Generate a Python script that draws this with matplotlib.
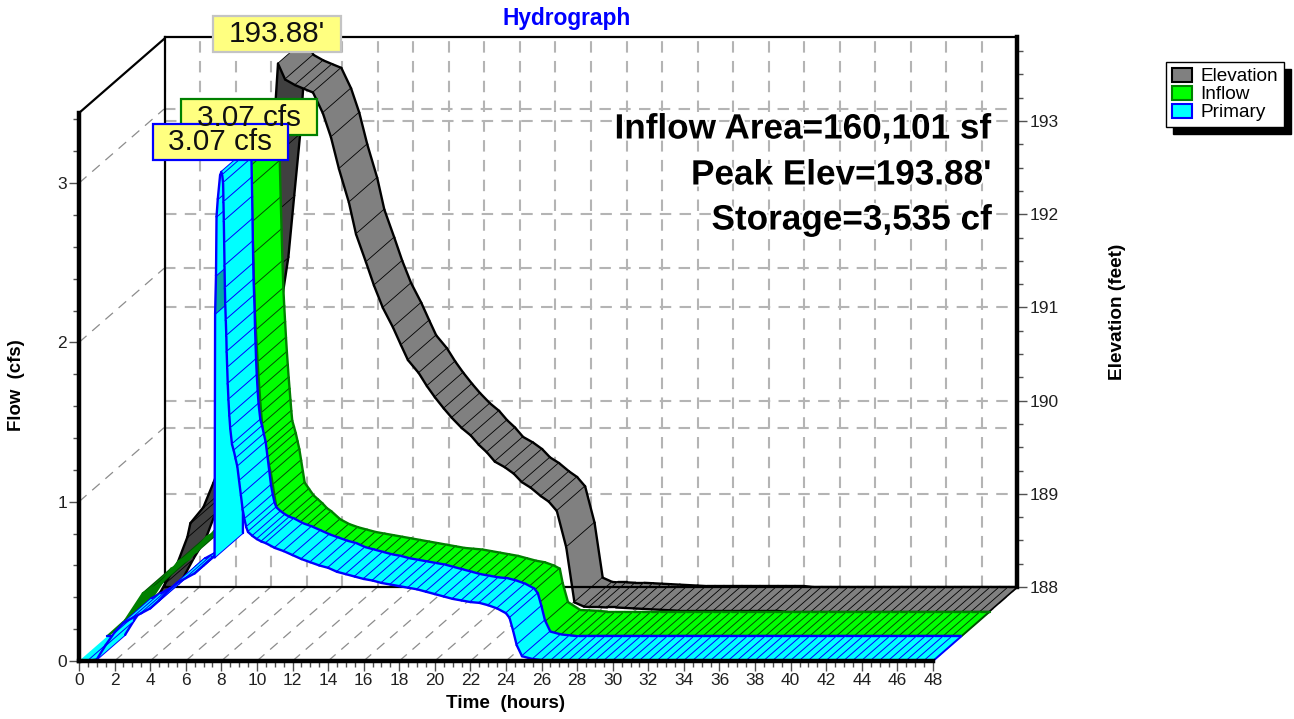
import numpy as np
import matplotlib
matplotlib.use('Agg')
import matplotlib.pyplot as plt
import matplotlib.patheffects as pe
from matplotlib.patches import Polygon, Patch, Rectangle
from matplotlib.ticker import MultipleLocator

plt.rcParams['font.family'] = ['Liberation Sans', 'DejaVu Sans']

W, H = 1294, 719

# values
tail_hours = [float(x) for x in np.arange(26.5, 48.5, 0.5)]

elev_hours = [0, 1, 1.65, 2.32, 2.88, 3.05, 3.78, 4.34, 5, 5.5, 6, 6.58, 6.97, 7.3, 7.64, 7.98,
              8.38, 8.94, 9.44, 9.95, 10.5, 10.96, 11.41, 11.97, 12.37, 12.93, 13.38, 13.88,
              14.45, 14.9, 15.29, 15.9, 16.36, 16.81, 17.31, 17.76, 18.32, 18.83, 19.28, 19.73,
              20.18, 20.74, 21.25, 21.7, 22.2, 22.77, 23.22, 23.67, 24.2, 24.66, 25.2, 25.5, 26] + tail_hours
elev_feet = [188.0, 188.08, 188.31, 188.52, 188.8, 188.95, 189.12, 189.38, 189.7, 190.0, 190.45, 191.05,
             191.54, 192.2, 192.87, 193.88,
             193.71, 193.65, 193.61, 193.57, 193.35, 193.09, 192.75, 192.39, 192.05, 191.75, 191.5, 191.26,
             191.05, 190.86, 190.7, 190.56, 190.42, 190.3, 190.18, 190.08, 189.97, 189.89, 189.79, 189.71,
             189.61, 189.55, 189.48, 189.39, 189.33, 189.24, 189.18, 189.08, 188.69, 188.1, 188.054, 188.05, 188.05,
             188.045, 188.045, 188.04, 188.035, 188.03, 188.025, 188.02, 188.015, 188.01, 188.01, 188.01, 188.01,
             188.01, 188.01, 188.01, 188.01, 188.01, 188.01, 188.01, 188.01, 188.0, 188.0, 188.0, 188.0,
             188.0, 188.0, 188.0, 188.0, 188.0, 188.0, 188.0, 188.0, 188.0, 188.0, 188.0, 188.0,
             188.0, 188.0, 188.0, 188.0, 188.0, 188.0, 188.0, 188.0]

inflow_hours = [0, 1, 2, 2.5, 3, 4, 5, 6, 7, 7.5, 7.6, 7.7, 7.8, 7.9,
                8.0, 8.05, 8.1, 8.15, 8.2, 8.25, 8.3, 8.35, 8.4, 8.45, 8.5, 8.55, 8.6, 8.65, 8.7, 8.75, 8.8,
                8.9, 9.0, 9.1, 9.2, 9.3, 9.4, 9.5, 9.75, 10, 10.25, 10.5, 10.75, 11, 11.5, 12, 12.5,
                13, 13.5, 14, 14.5, 15, 15.5, 16, 16.5, 17, 17.5, 18, 18.5, 19, 19.5, 20, 20.5, 21, 21.5,
                22, 22.5, 23, 23.5, 23.84, 24, 24.3, 25, 25.5, 26] + tail_hours
inflow_cfs = [0, 0.1, 0.27, 0.3, 0.33, 0.47, 0.53, 0.66, 0.75, 0.82, 1.5, 2.5, 2.9, 3.05,
              3.07, 2.95, 2.83, 2.6, 2.4, 2.2, 2.03, 1.92, 1.82, 1.72, 1.63, 1.55, 1.47, 1.4, 1.33, 1.26, 1.2,
              1.16, 1.12, 1.07, 1.02, 0.95, 0.88, 0.81, 0.77, 0.73, 0.705, 0.68, 0.65, 0.63, 0.58, 0.55, 0.53,
              0.515, 0.5, 0.49, 0.48, 0.47, 0.46, 0.45, 0.44, 0.43, 0.42, 0.41, 0.4, 0.395, 0.39, 0.38, 0.37, 0.36, 0.35,
              0.335, 0.32, 0.31, 0.29, 0.27, 0.18, 0.06, 0.01, 0.008, 0.005] + [0.0] * len(tail_hours)

primary_hours = [0, 0.5, 1, 1.5, 2, 2.5, 3, 3.5, 4, 4.5, 5, 5.5, 6, 6.5, 7, 7.5, 7.62, 7.65, 7.7, 7.73, 7.8, 7.93,
                 8.0, 8.05, 8.1, 8.12, 8.14, 8.16, 8.18, 8.2, 8.22, 8.25, 8.28, 8.3, 8.33, 8.36, 8.4, 8.45, 8.5,
                 8.6, 8.7, 8.8, 8.9, 9.0, 9.1, 9.2, 9.3, 9.4, 9.5, 9.75, 10, 10.25, 10.5, 11, 11.5, 12, 12.5,
                 13, 13.5, 14, 14.5, 15, 15.5, 16, 16.5, 17, 17.5, 18, 18.5, 19, 19.5, 20, 20.5, 21, 21.5,
                 22, 22.5, 23, 23.5, 24, 24.2, 24.4, 24.6, 24.9, 25.5, 26] + tail_hours
primary_cfs = [0, 0, 0.01, 0.1, 0.18, 0.24, 0.27, 0.3, 0.33, 0.38, 0.44, 0.49, 0.52, 0.55, 0.6, 0.65, 0.65, 2.18, 2.42, 2.79, 2.9, 3.05,
               3.07, 3.05, 3.0, 2.88, 2.76, 2.62, 2.48, 2.34, 2.24, 2.14, 2.04, 1.94, 1.84, 1.74, 1.64, 1.54, 1.46,
               1.36, 1.32, 1.27, 1.22, 1.13, 1.04, 0.95, 0.89, 0.84, 0.81, 0.785, 0.765, 0.75, 0.74, 0.71, 0.69, 0.665, 0.64,
               0.62, 0.6, 0.585, 0.56, 0.545, 0.53, 0.515, 0.505, 0.49, 0.48, 0.47, 0.46, 0.45, 0.435, 0.42, 0.405, 0.39, 0.38,
               0.37, 0.365, 0.35, 0.33, 0.3, 0.27, 0.19, 0.1, 0.03, 0.012, 0.006] + [0.0] * len(tail_hours)

series_names = ['Elevation', 'Inflow', 'Primary']
stats_lines = ['Inflow Area=160,101 sf', "Peak Elev=193.88'", 'Storage=3,535 cf']

# pixel frame of the two planes
FRONT = (79, 933, 661, 113)
BACK = (164.5, 1017.5, 587, 37)
CFS_TOP = (661 - 113) / 159.3
FT_TOP = 188 + (587 - 37) / 93.2
# depth of the box, in units of each axes
DEPTH_H = 85 / (854 / 48)
DEPTH_CFS = 74 / 159.3
DEPTH_FT = 74 / 93.2
GRID = '#b4b4b4'
TICK = '#505050'


def frame_axes(fig, box):
    x0, x1, y0, y1 = box
    return fig.add_axes([x0 / W, 1 - y0 / H, (x1 - x0) / W, (y0 - y1) / H])


def draw_ribbon(ax, hours, vals, xoff0, xoff1, yoff0, yoff1, face, under, edge, rung, special=None, rung_lw=1.4):
    hours = np.array(hours, dtype=float)
    vals = np.array(vals, dtype=float)
    for i in range(len(hours) - 1):
        col = under if vals[i + 1] > vals[i] else face
        if special is not None and hours[i] == special[0]:
            col = special[1]
        pts = [(hours[i] + xoff0, vals[i] + yoff0), (hours[i + 1] + xoff0, vals[i + 1] + yoff0),
               (hours[i + 1] + xoff1, vals[i + 1] + yoff1), (hours[i] + xoff1, vals[i] + yoff1)]
        # same zorder everywhere so later quads paint over earlier ones
        ax.add_patch(Polygon(pts, closed=True, facecolor=col, edgecolor='none', clip_on=False, zorder=1))
        ax.plot([hours[i + 1] + xoff0, hours[i + 1] + xoff1], [vals[i + 1] + yoff0, vals[i + 1] + yoff1],
                color=rung, lw=rung_lw, clip_on=False, solid_capstyle='butt', zorder=1)
        ax.plot([pts[0][0], pts[1][0]], [pts[0][1], pts[1][1]], color=edge, lw=1.7, clip_on=False,
                solid_capstyle='round', zorder=1)
        ax.plot([pts[3][0], pts[2][0]], [pts[3][1], pts[2][1]], color=edge, lw=1.7, clip_on=False,
                solid_capstyle='round', zorder=1)


fig = plt.figure(figsize=(W / 100, H / 100), dpi=100)

# back wall carries the elevation scale
back = frame_axes(fig, BACK)
back.set_xlim(0, 48)
back.set_ylim(188, FT_TOP)
back.set_zorder(1)
back.xaxis.set_major_locator(MultipleLocator(2))
back.yaxis.set_major_locator(MultipleLocator(1))
back.yaxis.set_minor_locator(MultipleLocator(0.25))
back.yaxis.tick_right()
back.tick_params(axis='x', length=0, labelbottom=False)
back.tick_params(axis='y', which='major', length=7.5, width=1, color=TICK, labelsize=12.5, pad=1.5, labelcolor='#202020')
back.tick_params(axis='y', which='minor', length=4.5, width=1, color=TICK)
back.grid(True, which='major', color=GRID, lw=1.5, ls=(0, (5.5, 4)))
back.set_axisbelow(True)
for s in ['left', 'top', 'bottom']:
    back.spines[s].set_linewidth(1.6)
back.spines['right'].set_linewidth(3.2)
back.set_ylabel('Elevation (feet)', fontsize=13.7, fontweight='bold')
back.yaxis.set_label_position('right')
back.yaxis.set_label_coords((1109 - BACK[0]) / (BACK[1] - BACK[0]), 0.5)

# front plane carries time and flow
ax = frame_axes(fig, FRONT)
ax.set_xlim(0, 48)
ax.set_ylim(0, CFS_TOP)
ax.set_zorder(2)
ax.patch.set_visible(False)
ax.xaxis.set_major_locator(MultipleLocator(2))
ax.xaxis.set_minor_locator(MultipleLocator(0.5))
ax.yaxis.set_major_locator(MultipleLocator(1))
ax.yaxis.set_minor_locator(MultipleLocator(0.2))
ax.tick_params(which='major', length=7, width=1, color=TICK, labelsize=12.5, pad=1.5, labelcolor='#202020')
ax.tick_params(which='minor', length=4, width=1, color=TICK)
for s in ['top', 'right']:
    ax.spines[s].set_visible(False)
for s in ['left', 'bottom']:
    ax.spines[s].set_linewidth(3.2)
ax.set_xlabel('Time  (hours)', fontsize=13.6, fontweight='bold')
ax.xaxis.set_label_coords(0.499, (661 - 695) / (661 - 113))
ax.set_ylabel('Flow  (cfs)', fontsize=13.4, fontweight='bold')
ax.yaxis.set_label_coords((25 - 79) / 854, 0.504)

# floor and side wall dashes, drawn below the ribbons
dash = dict(color='#8c8c8c', lw=0.9, ls=(0, (8, 6)), clip_on=False, transform=ax.transData, zorder=0.5)
for t in range(2, 50, 2):
    back.plot([t, t + DEPTH_H], [0, DEPTH_CFS], **dash)
for q in [1, 2, 3]:
    back.plot([0, DEPTH_H], [q, q + DEPTH_CFS], **dash)
    back.plot([DEPTH_H, 48 + DEPTH_H], [q + DEPTH_CFS, q + DEPTH_CFS], color=GRID, lw=1.5, ls=(0, (5.5, 4)),
              clip_on=False, transform=ax.transData, zorder=0.5)
back.plot([0, DEPTH_H], [CFS_TOP, CFS_TOP + DEPTH_CFS], color='k', lw=1.6, clip_on=False, transform=ax.transData, zorder=0.6)
back.set_xlim(0, 48)
back.set_ylim(188, FT_TOP)

draw_ribbon(back, elev_hours, elev_feet, -DEPTH_H / 3, 0, -DEPTH_FT / 3, 0, '#808080', '#404040', 'k', 'k', rung_lw=1.2)
draw_ribbon(ax, inflow_hours, inflow_cfs, DEPTH_H / 3, 2 * DEPTH_H / 3, DEPTH_CFS / 3, 2 * DEPTH_CFS / 3,
            '#00ff00', '#008000', '#008000', '#005000')
draw_ribbon(ax, primary_hours, primary_cfs, 0, DEPTH_H / 3, 0, DEPTH_CFS / 3,
            '#00ffff', '#00ffff', '#0000ff', '#0000ff', special=(7.65, '#00a8a8'))
ax.set_xlim(0, 48)
ax.set_ylim(0, CFS_TOP)

# overlay in pixels for the callouts, notes and legend
ov = fig.add_axes([0, 0, 1, 1])
ov.set_xlim(0, W)
ov.set_ylim(H, 0)
ov.axis('off')
ov.set_zorder(3)

callouts = [((213, 16, 128, 36), '#c4c4c4', "193.88'"),
            ((181, 99, 136, 36), '#008000', '3.07 cfs'),
            ((153, 124, 135, 36), '#0000ff', '3.07 cfs')]
for (x, y, w, h), col, txt in callouts:
    ov.add_patch(Rectangle((x, y), w, h, facecolor='#ffff80', edgecolor=col, lw=1.6))
    ov.text(x + w / 2, y + h / 2 + 0.5, txt, ha='center', va='center', fontsize=21.3, color='#101010')

for y, txt in zip([129, 175, 220], stats_lines):
    ov.text(992, y, txt, ha='right', va='center', fontsize=25.3, fontweight='bold', color='k',
            path_effects=[pe.withStroke(linewidth=3, foreground='white')])

handles = [Patch(facecolor='#808080', edgecolor='k', lw=1.5),
           Patch(facecolor='#00ff00', edgecolor='#008000', lw=1.5),
           Patch(facecolor='#00ffff', edgecolor='#0000ff', lw=1.5)]
ov.legend(handles, series_names, loc='upper left', bbox_to_anchor=(1166 / W, 1 - 62 / H), bbox_transform=fig.transFigure,
          fontsize=13.7, frameon=True, fancybox=False, edgecolor='k', framealpha=1, borderaxespad=0, borderpad=0.3,
          handlelength=1.05, handleheight=0.75, handletextpad=0.45, labelspacing=0.02,
          shadow={'ox': 5, 'oy': -5, 'color': 'k', 'alpha': 1})

fig.suptitle('Hydrograph', x=567 / W, y=1 - 18 / H, va='center', fontsize=16.4, fontweight='bold', color='#0000ff')

fig.savefig('out.png', dpi=100)
